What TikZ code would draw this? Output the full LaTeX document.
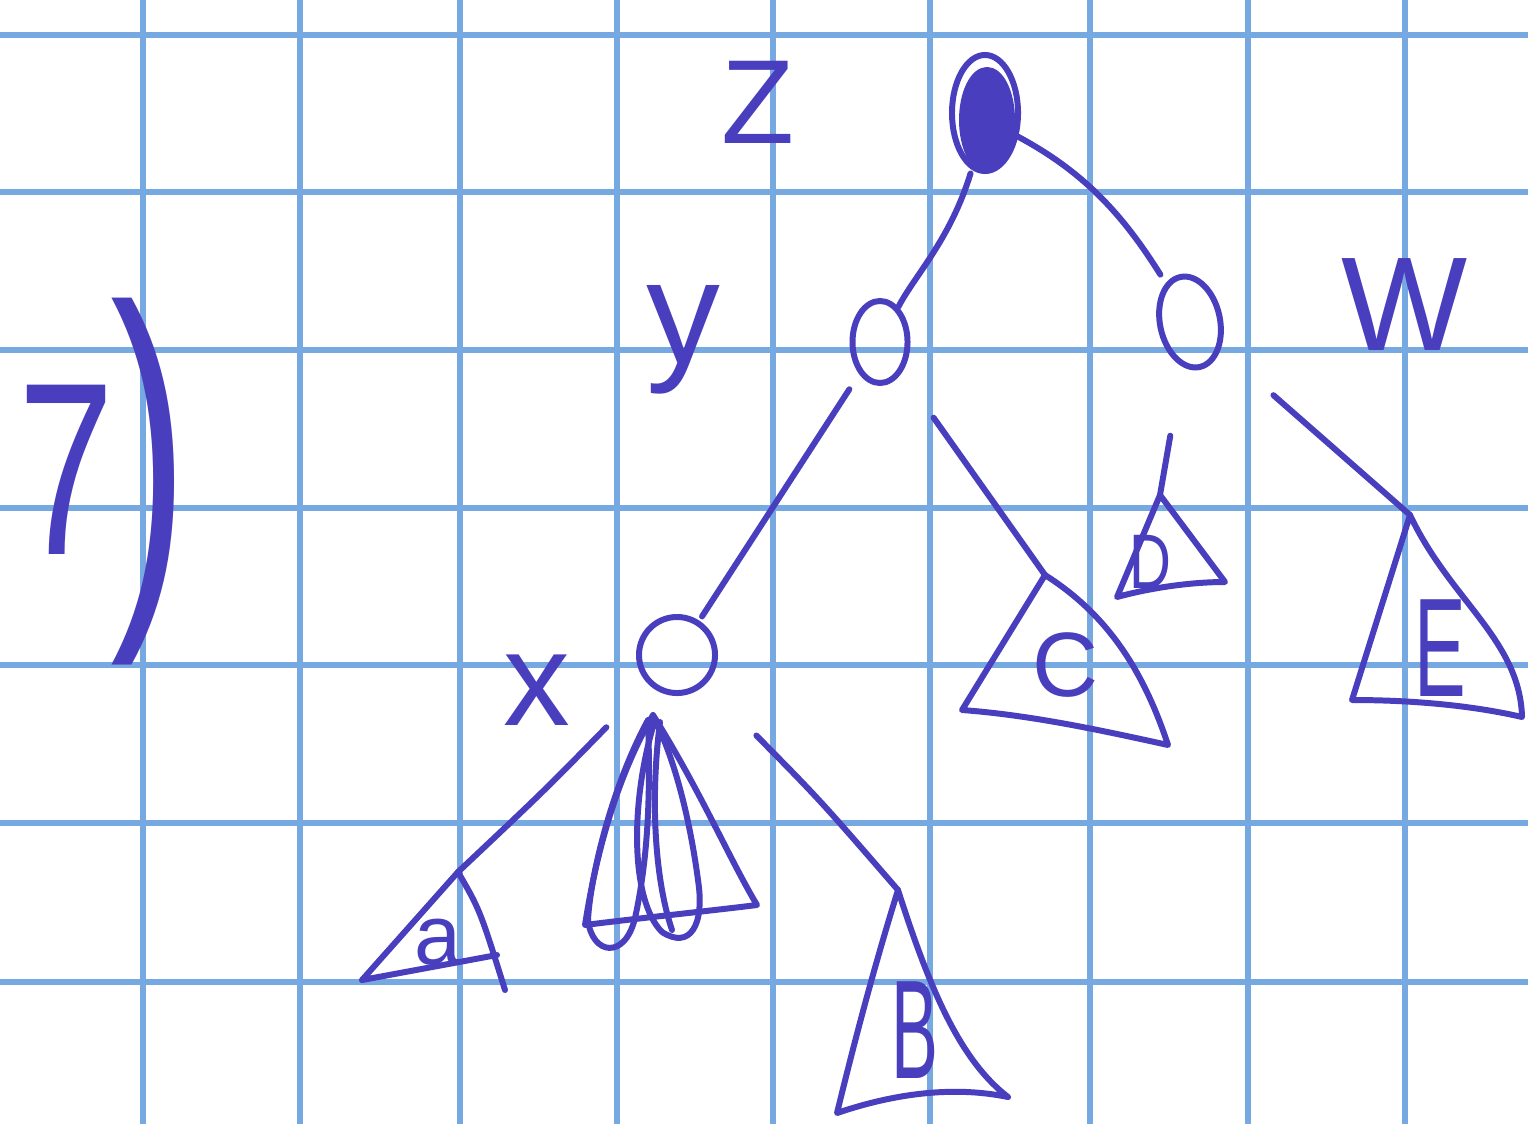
\documentclass[tikz,border=0pt]{standalone}
\usepackage{fontspec}
\setmainfont{Liberation Sans}
\usetikzlibrary{shapes.geometric}
\definecolor{pen}{RGB}{72,62,190}
\definecolor{gridblue}{RGB}{118,168,226}
\begin{document}
\begin{tikzpicture}[x=0.01cm,y=-0.01cm,
  pen/.style={draw=pen,line width=1.7pt,line cap=round,line join=round},
  gridline/.style={draw=gridblue,line width=1.5pt},
  vert/.style={ellipse,pen,inner sep=0pt},
  lbl/.style={text=pen,inner sep=0pt,font=\fontsize{38}{38}\selectfont}]
\fill[white] (0,0) rectangle (1528,1124);
\useasboundingbox (0,0) rectangle (1528,1124);
% graph paper
\foreach \gx in {143,300,460,617,773,930,1090,1248,1405}
  \draw[gridline] (\gx,0) -- (\gx,1124);
\foreach \gy in {35,192,350,508,665,823,982}
  \draw[gridline] (0,\gy) -- (1528,\gy);
% "7)"
\node[text=pen,inner sep=0pt,xscale=0.7,font=\fontsize{70}{70}\selectfont] (seven) at (66,470) {7};
\node[text=pen,inner sep=0pt,xscale=0.6,font=\fontsize{112}{112}\selectfont] (paren) at (150,482) {)};
% vertices
\node[vert,fill=pen,minimum width=0.5cm,minimum height=1.0cm] (z) at (987,120) {};
\draw[pen] (985,113) ellipse [x radius=0.33cm, y radius=0.58cm];
\node[vert,minimum width=0.55cm,minimum height=0.82cm] (y) at (880,342) {};
\node[vert,minimum width=0.6cm,minimum height=0.92cm,rotate=12] (w) at (1190,322) {};
\node[circle,pen,minimum size=0.76cm,inner sep=0pt] (x) at (677,655) {};
% labels
\node[lbl,font=\fontsize{34}{34}\selectfont] (lz) at (758,102) {Z};
\node[lbl,font=\fontsize{42}{42}\selectfont] (ly) at (683,340) {y};
\node[lbl] (lw) at (1405,305) {W};
\node[lbl] (lx) at (537,690) {x};
% subtree apexes
\coordinate (aT) at (458,872);
\coordinate (bT) at (898,890);
\coordinate (cT) at (1045,575);
\coordinate (dT) at (1160,495);
\coordinate (eT) at (1410,515);
\coordinate (mT) at (653,715);
% edges
\draw[pen,shorten <=0.08cm] (z) .. controls (950,240) and (915,275) .. (y);
\draw[pen,shorten <=0.05cm,shorten >=0.1cm] (z) .. controls (1080,170) and (1120,210) .. (w);
\draw[pen,shorten <=0.18cm,shorten >=0.05cm] (y) -- (x);
\draw[pen,shorten <=0.55cm] (y) -- (cT);
\draw[pen,shorten <=0.7cm] (w) -- (dT);
\draw[pen,shorten <=0.7cm] (w) -- (eT);
\draw[pen,shorten <=0.6cm] (x) .. controls (545,790) .. (aT);
\draw[pen,shorten <=0.72cm] (x) .. controls (820,800) .. (bT);
% subtree a
\draw[pen] (aT) -- (362,980) -- (497,955);
\draw[pen] (aT) .. controls (480,910) .. (505,990);
\node[text=pen,inner sep=0pt,font=\fontsize{24}{24}\selectfont] (la) at (438,942) {a};
% overlapping subtrees under x
\draw[pen] (mT) .. controls (700,790) and (730,860) .. (757,905) .. controls (700,912) and (640,918) .. (585,925)
  .. controls (595,860) and (615,780) .. (mT);
\draw[pen] (648,720) .. controls (610,790) and (590,880) .. (588,920)
  .. controls (592,955) and (625,960) .. (635,918) .. controls (650,850) and (650,780) .. (648,720);
\draw[pen] (655,720) .. controls (630,800) and (630,900) .. (662,932)
  .. controls (690,950) and (705,925) .. (698,880) .. controls (690,820) and (675,760) .. (655,720);
\draw[pen] (660,722) .. controls (650,800) and (655,880) .. (672,930);
% subtree B
\draw[pen] (bT) .. controls (870,980) and (850,1060) .. (837,1113)
  .. controls (890,1095) and (950,1085) .. (1008,1097)
  .. controls (960,1060) and (930,990) .. (bT);
\node[text=pen,inner sep=0pt,xscale=0.5,font=\fontsize{40}{40}\selectfont] (lb) at (915,1030) {B};
% subtree C
\draw[pen] (cT) -- (962,710) .. controls (1030,715) and (1100,730) .. (1168,745)
  .. controls (1140,660) and (1100,610) .. (cT);
\node[text=pen,inner sep=0pt,font=\fontsize{26}{26}\selectfont] (lc) at (1065,665) {C};
% subtree D
\draw[pen] (dT) -- (1117,597) .. controls (1150,588) and (1190,582) .. (1225,582) -- (dT);
\node[text=pen,inner sep=0pt,xscale=0.75,font=\fontsize{22}{22}\selectfont] (ld) at (1150,562) {D};
% subtree E
\draw[pen] (eT) -- (1352,700) .. controls (1410,700) and (1470,705) .. (1522,717)
  .. controls (1520,640) and (1450,600) .. (eT);
\node[text=pen,inner sep=0pt,xscale=0.55,font=\fontsize{40}{40}\selectfont] (le) at (1440,648) {E};
\end{tikzpicture}
\end{document}
